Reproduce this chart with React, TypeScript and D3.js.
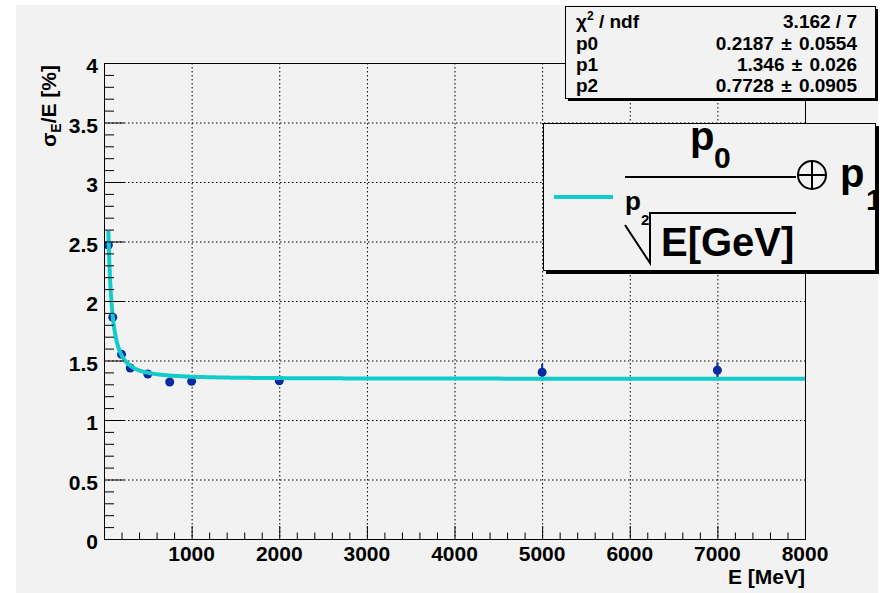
import React from 'react';
import * as d3 from 'd3';

// Measured energy resolution points (E in MeV, sigma_E/E in %)
const energyMeV = [50, 100, 200, 300, 500, 750, 1000, 2000, 5000, 7000];
const resolution = [2.47, 1.863, 1.552, 1.437, 1.387, 1.319, 1.325, 1.33, 1.401, 1.418];
const resolutionErr = [0.03, 0.03, 0.025, 0.02, 0.02, 0.02, 0.025, 0.02, 0.07, 0.067];

// Fit parameters: sigma/E = p0 / E[GeV]^p2 (+) p1
const fitParams = [0.2187, 1.346, 0.7728];

// Statistics box rows
const statLabels = ['p0', 'p1', 'p2'];
const statValues = ['0.2187 \u00b1 0.0554', '1.346 \u00b1 0.026', '0.7728 \u00b1 0.0905'];
const chi2Value = '3.162 / 7';

// Axis ticks
const xMajorTicks = [1000, 2000, 3000, 4000, 5000, 6000, 7000, 8000];
const yMajorTicks = [0, 0.5, 1, 1.5, 2, 2.5, 3, 3.5, 4];

const FONT = '"Liberation Sans", Arial, Helvetica, sans-serif';
const BG = '#f2f2f2';
const MARKER = '#0a2aa0';
const CYAN = '#12cccc';

const frame = { left: 104, right: 805, top: 63, bottom: 539 };

function fitFn(eMeV: number): number {
  const [p0, p1, p2] = fitParams;
  const a = p0 / Math.pow(eMeV / 1000, p2);
  return Math.sqrt(a * a + p1 * p1);
}

export default function App() {
  const x = d3.scaleLinear().domain([0, 8000]).range([frame.left, frame.right]);
  const y = d3.scaleLinear().domain([0, 4]).range([frame.bottom, frame.top]);

  const xMinor = d3.range(0, 8001, 200).filter((v) => v % 1000 !== 0);
  const yMinor = d3.range(0, 41, 1).map((v) => v / 10).filter((v) => Math.round(v * 10) % 5 !== 0);

  const curvePts: [number, number][] = d3
    .range(0, 301)
    .map((i) => 50 * Math.pow(8000 / 50, i / 300))
    .map((e) => [e, fitFn(e)]);
  const line = d3
    .line<[number, number]>()
    .x((d) => x(d[0]))
    .y((d) => y(d[1]));

  const points = energyMeV.map((e, i) => ({ e, v: resolution[i], err: resolutionErr[i] }));

  return (
    <svg
      width={883}
      height={593}
      style={{ position: 'absolute', left: 0, top: 0, display: 'block' }}
      fontFamily={FONT}
      fontWeight="bold"
    >
      <defs>
        <clipPath id="plotClip">
          <rect x={frame.left} y={frame.top} width={frame.right - frame.left} height={frame.bottom - frame.top} />
        </clipPath>
        <clipPath id="legendClip">
          <rect x={543} y={123} width={332} height={147} />
        </clipPath>
      </defs>
      <rect x={0} y={0} width={883} height={593} fill="#ffffff" />
      <rect x={16} y={5} width={862} height={588} fill={BG} />

      {/* grid */}
      <g stroke="#000" strokeWidth={1} strokeDasharray="1.5 2.5">
        {xMajorTicks.slice(0, -1).map((t) => (
          <line key={'gx' + t} x1={x(t) + 0.5} x2={x(t) + 0.5} y1={frame.top} y2={frame.bottom} />
        ))}
        {yMajorTicks.slice(1, -1).map((t) => (
          <line key={'gy' + t} x1={frame.left} x2={frame.right} y1={y(t) + 0.5} y2={y(t) + 0.5} />
        ))}
      </g>

      {/* data points with error bars */}
      <g clipPath="url(#plotClip)">
        {points.map((p) => (
          <g key={'p' + p.e}>
            <line
              x1={x(p.e)}
              x2={x(p.e)}
              y1={y(p.v - p.err)}
              y2={y(p.v + p.err)}
              stroke={MARKER}
              strokeWidth={2}
            />
            <circle cx={x(p.e)} cy={y(p.v)} r={4.5} fill={MARKER} />
          </g>
        ))}
        <path d={line(curvePts) || ''} fill="none" stroke={CYAN} strokeWidth={4} />
      </g>

      {/* frame */}
      <rect
        x={frame.left + 0.5}
        y={frame.top + 0.5}
        width={frame.right - frame.left}
        height={frame.bottom - frame.top}
        fill="none"
        stroke="#000"
        strokeWidth={1}
      />

      {/* axis ticks */}
      <g stroke="#000" strokeWidth={1}>
        {xMajorTicks.map((t) => (
          <line key={'xt' + t} x1={x(t) + 0.5} x2={x(t) + 0.5} y1={frame.bottom} y2={frame.bottom - 13} />
        ))}
        {xMinor.map((t) => (
          <line key={'xm' + t} x1={x(t) + 0.5} x2={x(t) + 0.5} y1={frame.bottom} y2={frame.bottom - 6.5} />
        ))}
        {yMajorTicks.map((t) => (
          <line key={'yt' + t} x1={frame.left} x2={frame.left + 20} y1={y(t) + 0.5} y2={y(t) + 0.5} />
        ))}
        {yMinor.map((t) => (
          <line key={'ym' + t} x1={frame.left} x2={frame.left + 10} y1={y(t) + 0.5} y2={y(t) + 0.5} />
        ))}
      </g>

      {/* tick labels */}
      <g fontSize={21} fill="#000">
        {xMajorTicks.map((t) => (
          <text key={'xl' + t} x={x(t)} y={561} textAnchor="middle">
            {t}
          </text>
        ))}
        {yMajorTicks.map((t) => (
          <text key={'yl' + t} x={98} y={y(t) + 10} textAnchor="end">
            {t}
          </text>
        ))}
      </g>

      {/* axis titles */}
      <text x={frame.right} y={584} textAnchor="end" fontSize={21}>
        E [MeV]
      </text>
      <text transform="translate(56,65) rotate(-90)" textAnchor="end" fontSize={21}>
        {'\u03c3'}
        <tspan fontSize={14} dy={5}>
          E
        </tspan>
        <tspan dy={-5}>/E [%]</tspan>
      </text>

      {/* statistics box */}
      <rect x={568} y={9} width={310} height={92} fill="#000" />
      <rect x={565.5} y={6.5} width={310} height={92} fill={BG} stroke="#000" strokeWidth={1} />
      <g fontSize={19} fill="#000">
        <text x={576} y={28}>
          {'\u03c7'}
          <tspan fontSize={12} dy={-8}>
            2
          </tspan>
          <tspan dy={8}> / ndf</tspan>
        </text>
        <text x={857} y={28} textAnchor="end">
          {chi2Value}
        </text>
        {statLabels.map((lab, i) => (
          <g key={lab}>
            <text x={576} y={50 + i * 21}>
              {lab}
            </text>
            <text x={857} y={50 + i * 21} textAnchor="end" wordSpacing={2}>
              {statValues[i]}
            </text>
          </g>
        ))}
      </g>

      {/* legend box */}
      <rect x={546} y={126} width={333} height={148} fill="#000" />
      <rect x={543.5} y={123.5} width={332} height={147} fill={BG} stroke="#000" strokeWidth={1} />
      <g clipPath="url(#legendClip)">
        <line x1={554} x2={613} y1={197} y2={197} stroke={CYAN} strokeWidth={4} />
        {/* numerator p_0 */}
        <text x={690} y={150} fontSize={40}>
          p
        </text>
        <text x={714} y={168} fontSize={30}>
          0
        </text>
        <line x1={625} x2={796} y1={177} y2={177} stroke="#000" strokeWidth={2} />
        {/* oplus */}
        <circle cx={812} cy={175} r={14} fill="none" stroke="#000" strokeWidth={2} />
        <line x1={798} x2={826} y1={175} y2={175} stroke="#000" strokeWidth={2} />
        <line x1={812} x2={812} y1={161} y2={189} stroke="#000" strokeWidth={2} />
        {/* p_1 */}
        <text x={840} y={187} fontSize={40}>
          p
        </text>
        <text x={866} y={210} fontSize={30}>
          1
        </text>
        {/* root index p_2 */}
        <text x={625} y={210} fontSize={26}>
          p
        </text>
        <text x={641} y={225} fontSize={15}>
          2
        </text>
        {/* radical */}
        <path d="M625,225 L650,263 L650,213 L796,213" fill="none" stroke="#000" strokeWidth={2} />
        <text x={661} y={256} fontSize={40}>
          E[GeV]
        </text>
      </g>
    </svg>
  );
}
